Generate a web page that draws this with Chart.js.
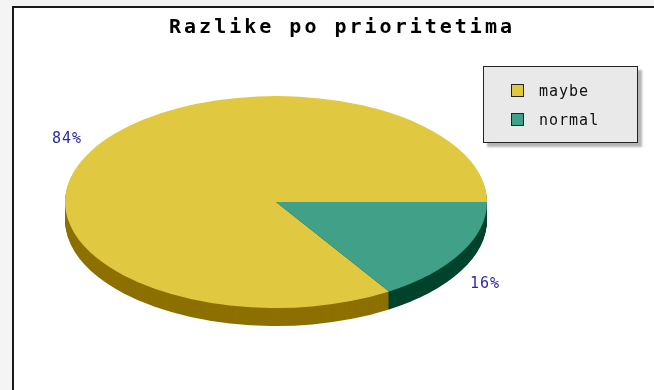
<!DOCTYPE html>
<html>
<head>
<meta charset="utf-8">
<script src="https://cdn.jsdelivr.net/npm/chart.js@4.4.0/dist/chart.umd.min.js"></script>
<style>
  html, body { margin: 0; padding: 0; background: #fff; }
  #wrap { position: relative; width: 654px; height: 390px; overflow: hidden; }
  #legend {
    position: absolute; left: 483px; top: 66px; width: 153px; height: 75px;
    background: #e9e9e9; border: 1px solid #222; box-shadow: 4px 4px 2px #b4b4b4;
    font: 15px "DejaVu Sans Mono", monospace; letter-spacing: 1px; color: #111;
  }
  .item { position: absolute; left: 27px; display: flex; align-items: center; height: 13px; }
  .swatch { width: 11px; height: 11px; border: 1px solid #222; margin-right: 15px; }
</style>
</head>
<body>
<div id="wrap">
  <canvas id="chart" width="654" height="390"></canvas>
  <div id="legend"></div>
</div>
<script>
const labels = ["maybe", "normal"];
const values = [84, 16];
const topColors = ["#e0c840", "#40a088"];
const sideColors = ["#8c7000", "#00432c"];

// where the flattened pie sits on the page
const PIE = { cx: 276, cy: 202, rx: 211, ry: 106, depth: 18 };

const total = values.reduce((a, b) => a + b, 0);

const pie3d = {
    id: "pie3d",
    beforeDraw(chart) {
        const ctx = chart.ctx;
        // outer grey + framed white panel
        ctx.save();
        ctx.fillStyle = "#f4f4f4";
        ctx.fillRect(0, 0, chart.width, chart.height);
        ctx.fillStyle = "#fff";
        ctx.fillRect(13, 7, chart.width, chart.height);
        ctx.strokeStyle = "#1a1a1a";
        ctx.lineWidth = 2;
        ctx.strokeRect(13, 7, chart.width + 10, chart.height + 10);
        ctx.restore();
        ctx.letterSpacing = "3px"; // wide bitmap-like title
    },
    beforeDatasetsDraw(chart) {
        const ctx = chart.ctx;
        ctx.letterSpacing = "0px";
        const meta = chart.getDatasetMeta(0);
        const first = meta.data[0];
        const r = first.outerRadius;
        const toEllipse = (dy) => {
            ctx.translate(PIE.cx, PIE.cy + dy);
            ctx.scale(PIE.rx / r, PIE.ry / r);
            ctx.translate(-first.x, -first.y);
        };
        // side walls: stacked darker copies
        for (let d = PIE.depth; d > 0; d--) {
            ctx.save();
            toEllipse(d);
            meta.data.forEach((el, i) => {
                const orig = el.options;
                el.options = Object.assign({}, orig, { backgroundColor: sideColors[i], borderWidth: 0 });
                el.draw(ctx);
                el.options = orig;
            });
            ctx.restore();
        }
        ctx.save();
        toEllipse(0);
    },
    afterDatasetsDraw(chart) {
        const ctx = chart.ctx;
        ctx.restore();

        // percentage labels
        const meta = chart.getDatasetMeta(0);
        ctx.save();
        ctx.font = '15px "DejaVu Sans Mono"';
        ctx.letterSpacing = "1px";
        ctx.fillStyle = "#2a2aa0";
        ctx.textAlign = "center";
        ctx.textBaseline = "middle";
        meta.data.forEach((el, i) => {
            const mid = (el.startAngle + el.endAngle) / 2;
            const c = Math.cos(mid), s = Math.sin(mid);
            const x = PIE.cx + c * PIE.rx * 1.13;
            const y = PIE.cy + s * PIE.ry * 1.24 + (s > 0 ? PIE.depth + 1 : 0);
            ctx.fillText(Math.round(values[i] / total * 100) + "%", x, y);
        });
        ctx.restore();
    }
};

const chart = new Chart(document.getElementById("chart"), {
    type: "pie",
    data: {
        labels: labels,
        datasets: [{
            data: values,
            backgroundColor: topColors,
            borderWidth: 0,
            clip: false
        }]
    },
    options: {
        responsive: false,
        animation: false,
        events: [],
        rotation: 90 + 360 * values[1] / total,
        layout: { padding: { left: 30, top: 0, right: 0, bottom: 0 } },
        plugins: {
            legend: { display: false },
            tooltip: { enabled: false },
            title: {
                display: true,
                text: "Razlike po prioritetima",
                color: "#000",
                font: { family: "DejaVu Sans Mono", size: 20, weight: "bold" },
                padding: { top: 16, bottom: 10 }
            }
        }
    },
    plugins: [pie3d]
});

// legend box
const legendEl = document.getElementById("legend");
labels.forEach((name, i) => {
    const item = document.createElement("div");
    item.className = "item";
    item.style.top = (17 + i * 29) + "px";
    const sw = document.createElement("span");
    sw.className = "swatch";
    sw.style.background = topColors[i];
    const txt = document.createElement("span");
    txt.textContent = name;
    item.appendChild(sw);
    item.appendChild(txt);
    legendEl.appendChild(item);
});
</script>
</body>
</html>
